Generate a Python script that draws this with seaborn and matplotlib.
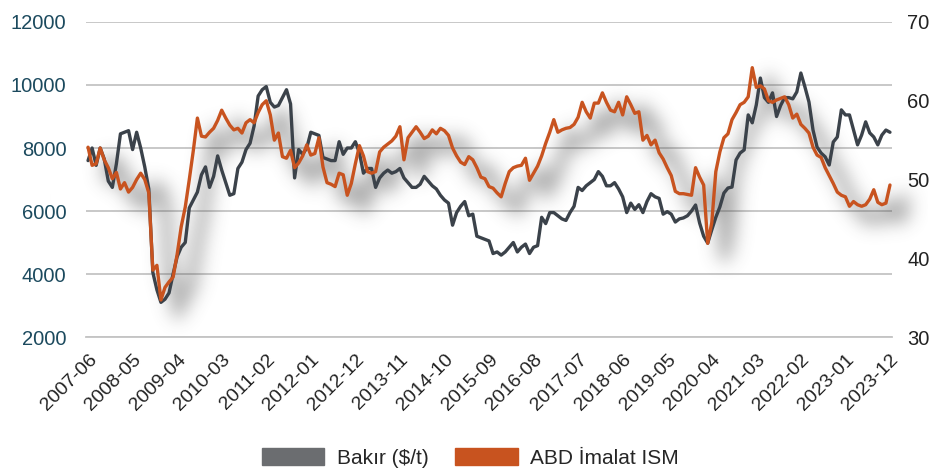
import numpy as np
import pandas as pd
import matplotlib
matplotlib.use("Agg")
import matplotlib.pyplot as plt
import seaborn as sns
from matplotlib.patches import Patch

# Aylık veriler: 2007-06 ... 2023-12
bakir = [
    7600, 8000, 7450, 8000, 7650, 6950, 6750, 7500, 8450, 8500, 8550, 7950,
    8500, 8000, 7400, 6700, 4050, 3500, 3100, 3200, 3400, 4000, 4550, 4850,
    5000, 6100, 6350, 6600, 7150, 7400, 6750, 7100, 7750, 7300, 6900, 6500,
    6550, 7350, 7550, 7950, 8150, 8700, 9650, 9850, 9950, 9450, 9300, 9350,
    9600, 9850, 9400, 7050, 7950, 7800, 8000, 8500, 8450, 8400, 7700, 7650,
    7600, 7600, 8200, 7800, 8000, 8000, 8200, 7850, 7200, 7350, 7350, 6750,
    7050, 7200, 7300, 7200, 7250, 7350, 7050, 6900, 6750, 6750, 6850, 7100,
    6950, 6800, 6700, 6500, 6350, 6250, 5550, 5950, 6150, 6300, 5850, 5900,
    5200, 5150, 5100, 5050, 4650, 4700, 4600, 4700, 4850, 5000, 4700, 4850,
    4950, 4650, 4850, 4900, 5800, 5600, 5950, 5950, 5850, 5750, 5700, 5950,
    6150, 6750, 6650, 6800, 6900, 7000, 7250, 7100, 6800, 6800, 6900, 6700,
    6450, 5950, 6250, 6050, 6200, 5950, 6300, 6550, 6450, 6400, 5900, 5980,
    5900, 5650, 5750, 5780, 5850, 6000, 6190, 5620, 5200, 4980, 5400, 5800,
    6130, 6570, 6730, 6760, 7620, 7840, 7940, 9050, 8800, 9370, 10220, 9600,
    9450, 9750, 9000, 9350, 9600, 9600, 9560, 9780, 10380, 9940, 9460, 8570,
    8030, 7840, 7720, 7460, 8190, 8350, 9210, 9050, 9050, 8570, 8100, 8410,
    8830, 8480, 8350, 8100, 8410, 8570, 8500,
]

ism = [
    54.1, 51.8, 52.0, 54.0, 52.5, 51.5, 50.1, 50.9, 48.8, 49.6, 48.4, 49.0,
    50.0, 50.8, 50.0, 48.3, 38.5, 39.1, 34.7, 36.3, 37.0, 37.6, 40.5, 44.0,
    46.5, 50.0, 53.7, 57.8, 55.5, 55.4, 56.0, 56.5, 57.5, 58.8, 57.8, 56.9,
    56.3, 56.5, 55.9, 57.2, 57.6, 57.2, 58.5, 59.5, 60.0, 58.2, 55.0, 55.9,
    52.9, 52.7, 53.7, 51.5, 52.1, 53.0, 54.4, 53.1, 53.3, 55.3, 51.6, 49.6,
    49.4, 49.1, 50.8, 50.6, 48.0, 49.5, 52.0, 54.3, 53.0, 51.0, 50.8, 51.0,
    53.5, 54.1, 54.5, 54.9, 55.5, 56.7, 52.5, 55.3, 56.0, 56.7, 56.0, 55.2,
    55.5, 56.3, 55.8, 56.5, 56.2, 55.6, 54.0, 53.0, 52.2, 51.9, 52.9, 52.5,
    51.5, 50.3, 50.1, 49.1, 48.9, 48.3, 47.8, 49.5, 51.0, 51.5, 51.7, 51.8,
    52.7, 49.9, 50.8, 51.7, 53.0, 54.6, 56.0, 57.6, 56.0, 56.3, 56.5, 56.6,
    57.0, 57.9, 59.8, 58.6, 57.8, 59.7, 59.7, 61.0, 59.8, 58.8, 58.6, 59.8,
    58.2, 60.5, 59.5, 58.4, 58.6, 55.0, 55.6, 54.4, 55.0, 53.4, 52.6, 51.5,
    50.5, 48.5, 48.2, 48.2, 48.1, 48.0, 51.5, 50.3, 49.3, 41.9, 44.5, 51.0,
    53.5, 55.3, 55.8, 57.6, 58.5, 59.5, 59.8, 60.5, 64.2, 61.7, 61.9, 61.5,
    60.0, 59.8, 60.1, 60.3, 60.5, 59.5, 57.8, 58.3, 57.0, 56.5, 55.9, 54.1,
    53.1, 52.8, 51.5, 50.5, 49.5, 48.4, 48.0, 47.8, 46.6, 47.2, 46.8, 46.6,
    46.8, 47.5, 48.7, 47.1, 46.8, 47.0, 49.3,
]

aylar = pd.period_range("2007-06", "2023-12", freq="M").strftime("%Y-%m").tolist()
df = pd.DataFrame({"Ay": aylar, "Bakır": bakir[:len(aylar)], "ISM": ism[:len(aylar)]})
df["x"] = np.arange(len(df))

RENK_BAKIR = "#3b424a"
RENK_ISM = "#c8531f"


def smooth1d(a, sigma):
    r = int(sigma * 3)
    k = np.exp(-0.5 * (np.arange(-r, r + 1) / sigma) ** 2)
    k /= k.sum()
    return np.convolve(a, k, mode="same")


class DropShadow:
    """Turuncu çizgi altındaki bulanık gölge"""
    def __init__(self, sigma, alpha, offsets):
        self.sigma = sigma
        self.alpha = alpha
        self.offsets = offsets

    def __call__(self, im, dpi):
        pad = int(self.sigma * 4)
        src = np.pad(im, [(pad, pad), (pad, pad), (0, 0)], "constant")
        a = src[:, :, 3] * self.alpha
        a = np.apply_along_axis(smooth1d, 0, a, self.sigma)
        a = np.apply_along_axis(smooth1d, 1, a, self.sigma)
        out = np.zeros_like(src)
        out[:, :, :3] = 0.3
        out[:, :, 3] = np.clip(a, 0, 1)
        out = np.roll(out, self.offsets[0], axis=1)
        out = np.roll(out, -self.offsets[1], axis=0)
        return out, -pad, -pad


sns.set_style("white")
plt.rcParams["font.family"] = ["Liberation Sans", "DejaVu Sans"]

fig, ax = plt.subplots(figsize=(9.35, 4.73), dpi=100)
fig.subplots_adjust(left=0.092, right=0.954, top=0.9535, bottom=0.2875)
ax2 = ax.twinx()

# Gölge: ISM değerleri sol eksen ölçeğine çevrilerek çiziliyor
df["ISM_sol"] = 2000 + (df["ISM"] - 30) * 250
sns.lineplot(data=df, x="x", y="ISM_sol", ax=ax, color="black", linewidth=8, zorder=1)
golge = ax.lines[-1]
golge.set_agg_filter(DropShadow(sigma=9, alpha=0.5, offsets=(17, -13)))
golge.set_rasterized(True)

sns.lineplot(data=df, x="x", y="Bakır", ax=ax, color=RENK_BAKIR, linewidth=2.4, zorder=3)
sns.lineplot(data=df, x="x", y="ISM", ax=ax2, color=RENK_ISM, linewidth=2.4, zorder=3)

ax.set_ylim(2000, 12000)
ax2.set_ylim(30, 70)
ax.set_xlim(-0.5, len(df) - 0.5)
ax.set_yticks(range(2000, 12001, 2000))
ax2.set_yticks(range(30, 71, 10))
ax.grid(axis="y", color="#c4c4c4", linewidth=1.3)
ax.set_axisbelow(True)

tick_pos = df["x"][::11]
ax.set_xticks(tick_pos)
ax.set_xticklabels(df["Ay"][::11], rotation=45, ha="right", rotation_mode="anchor",
                   fontsize=14, color="#222222")
ax.set_xticks(df["x"], minor=True)
ax.tick_params(axis="x", which="both", length=4, width=0.8, color="#c4c4c4",
               direction="out", pad=6)
ax.tick_params(axis="y", length=0, labelsize=14.5, labelcolor="#1c4a5e", pad=14)
ax2.tick_params(axis="y", length=0, labelsize=14.5, labelcolor="#222222", pad=11)
ax.set_xlabel("")
ax.set_ylabel("")
ax2.set_ylabel("")

for a in (ax, ax2):
    for s in ["top", "left", "right"]:
        a.spines[s].set_visible(False)
    a.spines["bottom"].set_color("#c4c4c4")
    a.spines["bottom"].set_linewidth(1.3)
ax2.spines["bottom"].set_visible(False)

handles = [Patch(color="#6b6d70"), Patch(color=RENK_ISM)]
fig.legend(handles, ["Bakır ($/t)", "ABD İmalat ISM"], loc="center",
           bbox_to_anchor=(0.503, 0.032), ncol=2, frameon=False, fontsize=15,
           handlelength=3.0, handleheight=0.85, columnspacing=1.3, handletextpad=0.6)

fig.savefig("out.png", dpi=100)
